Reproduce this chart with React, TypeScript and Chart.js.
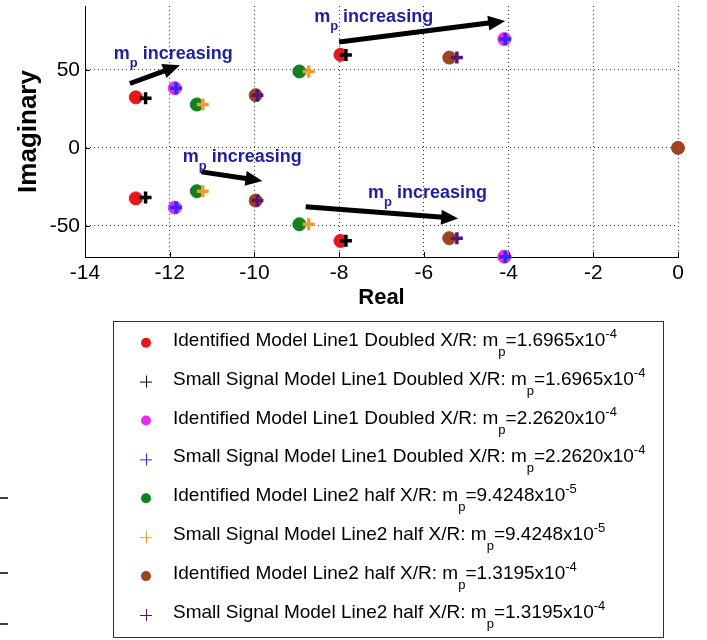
import React, { useEffect, useRef } from 'react';
import { Chart, registerables } from 'chart.js';

Chart.register(...registerables);

const FONT = '"Liberation Sans", Arial, Helvetica, sans-serif';

// ---- axes ----
const xTicks = [-14, -12, -10, -8, -6, -4, -2, 0];
const yTicks = [-50, 0, 50];
const xMin = -14;
const xMax = 0;
const yMin = -70;
const yMax = 91;
const xTitle = 'Real';
const yTitle = 'Imaginary';

// ---- series (real / imaginary parts of eigenvalues) ----
const idL1Mp1Re = [-12.8, -12.8, -7.97, -7.97];
const idL1Mp1Im = [32.4, -32.4, 59.7, -59.7];
const ssL1Mp1Re = [-12.57, -12.57, -7.84, -7.84];
const ssL1Mp1Im = [31.8, -31.8, 59.6, -59.6];
const idL1Mp2Re = [-11.88, -11.88, -4.1, -4.1];
const idL1Mp2Im = [38.3, -38.3, 69.8, -69.8];
const ssL1Mp2Re = [-11.85, -11.85, -4.08, -4.08];
const ssL1Mp2Im = [38.3, -38.3, 69.8, -69.8];
const idL2Mp1Re = [-11.36, -11.36, -8.94, -8.94];
const idL2Mp1Im = [27.8, -27.8, 49.0, -49.0];
const ssL2Mp1Re = [-11.22, -11.22, -8.72, -8.72];
const ssL2Mp1Im = [27.8, -27.8, 49.0, -49.0];
const idL2Mp2Re = [-9.97, -9.97, -5.4, -5.4, 0];
const idL2Mp2Im = [33.8, -33.8, 57.9, -57.9, 0];
const ssL2Mp2Re = [-9.93, -9.93, -5.22, -5.22];
const ssL2Mp2Im = [33.8, -33.8, 57.9, -57.9];

const seriesRe = [idL1Mp1Re, ssL1Mp1Re, idL1Mp2Re, ssL1Mp2Re, idL2Mp1Re, ssL2Mp1Re, idL2Mp2Re, ssL2Mp2Re];
const seriesIm = [idL1Mp1Im, ssL1Mp1Im, idL1Mp2Im, ssL1Mp2Im, idL2Mp1Im, ssL2Mp1Im, idL2Mp2Im, ssL2Mp2Im];
const seriesKind = ['dot', 'plus', 'dot', 'plus', 'dot', 'plus', 'dot', 'plus'];
const seriesColor = ['#e8161b', '#000000', '#e62ee6', '#2b2bff', '#12801c', '#f39a2c', '#a0431f', '#521774'];
const legendPrefix = [
  'Identified Model Line1 Doubled X/R: m',
  'Small Signal Model Line1 Doubled X/R: m',
  'Identified Model Line1 Doubled X/R: m',
  'Small Signal Model Line1 Doubled X/R: m',
  'Identified Model Line2 half X/R: m',
  'Small Signal Model Line2 half X/R: m',
  'Identified Model Line2 half X/R: m',
  'Small Signal Model Line2 half X/R: m',
];
const legendMantissa = ['=1.6965x10', '=1.6965x10', '=2.2620x10', '=2.2620x10', '=9.4248x10', '=9.4248x10', '=1.3195x10', '=1.3195x10'];
const legendExponent = ['-4', '-4', '-4', '-4', '-5', '-5', '-4', '-4'];

// ---- annotations ("m_p increasing" + arrows), in data coordinates ----
const noteX = [-13.32, -8.59, -11.69, -7.32];
const noteY = [57.3, 80.8, -9.0, -32.4];
const arrowFromX = [-12.94, -8.0, -11.25, -8.79];
const arrowFromY = [41.3, 67.9, -15.4, -37.8];
const arrowToX = [-11.76, -4.08, -9.81, -5.19];
const arrowToY = [53.0, 81.4, -21.2, -45.3];

type Part = { t: string; size: number; dy: number; bold?: boolean };

function drawRich(ctx: CanvasRenderingContext2D, x: number, y: number, parts: Part[], color: string) {
  let cx = x;
  ctx.fillStyle = color;
  ctx.textBaseline = 'alphabetic';
  ctx.textAlign = 'left';
  for (const p of parts) {
    ctx.font = `${p.bold ? 'bold ' : ''}${p.size}px ${FONT}`;
    ctx.fillText(p.t, cx, y + p.dy);
    cx += ctx.measureText(p.t).width;
  }
}

function drawArrow(ctx: CanvasRenderingContext2D, x1: number, y1: number, x2: number, y2: number) {
  const ang = Math.atan2(y2 - y1, x2 - x1);
  const headLen = 17;
  const headHalf = 7.5;
  const bx = x2 - headLen * Math.cos(ang);
  const by = y2 - headLen * Math.sin(ang);
  ctx.strokeStyle = '#000';
  ctx.fillStyle = '#000';
  ctx.lineWidth = 5;
  ctx.lineCap = 'butt';
  ctx.beginPath();
  ctx.moveTo(x1, y1);
  ctx.lineTo(bx + 2 * Math.cos(ang), by + 2 * Math.sin(ang));
  ctx.stroke();
  ctx.beginPath();
  ctx.moveTo(x2, y2);
  ctx.lineTo(bx - headHalf * Math.sin(ang), by + headHalf * Math.cos(ang));
  ctx.lineTo(bx + headHalf * Math.sin(ang), by - headHalf * Math.cos(ang));
  ctx.closePath();
  ctx.fill();
}

const overlayPlugin = {
  id: 'overlay',
  beforeDraw(chart: any) {
    const ctx = chart.ctx;
    ctx.save();
    ctx.fillStyle = '#fff';
    ctx.fillRect(0, 0, chart.width, chart.height);
    ctx.restore();
  },
  afterDraw(chart: any) {
    const { ctx, chartArea } = chart;
    const xs = chart.scales.x;
    const ys = chart.scales.y;
    ctx.save();
    // inward tick marks
    ctx.strokeStyle = '#000';
    ctx.lineWidth = 1;
    ctx.beginPath();
    xTicks.forEach((v) => {
      const px = Math.round(xs.getPixelForValue(v)) + 0.5;
      ctx.moveTo(px, chartArea.bottom);
      ctx.lineTo(px, chartArea.bottom - 5);
    });
    yTicks.forEach((v) => {
      const py = Math.round(ys.getPixelForValue(v)) + 0.5;
      ctx.moveTo(chartArea.left, py);
      ctx.lineTo(chartArea.left + 5, py);
    });
    ctx.stroke();

    // arrows
    for (let i = 0; i < arrowFromX.length; i++) {
      drawArrow(
        ctx,
        xs.getPixelForValue(arrowFromX[i]),
        ys.getPixelForValue(arrowFromY[i]),
        xs.getPixelForValue(arrowToX[i]),
        ys.getPixelForValue(arrowToY[i])
      );
    }
    // annotation text
    for (let i = 0; i < noteX.length; i++) {
      drawRich(
        ctx,
        xs.getPixelForValue(noteX[i]),
        ys.getPixelForValue(noteY[i]),
        [
          { t: 'm', size: 18, dy: 0, bold: true },
          { t: 'p', size: 13, dy: 8, bold: true },
          { t: ' increasing', size: 18, dy: 0, bold: true },
        ],
        '#1f1fa0'
      );
    }

    // legend box
    const bx = 113.5, by = 321.5, bw = 550, bh = 316;
    ctx.strokeStyle = '#333';
    ctx.lineWidth = 1;
    ctx.strokeRect(bx, by, bw, bh);
    const rowStep = 38.9;
    for (let i = 0; i < legendPrefix.length; i++) {
      const cy = 342.7 + i * rowStep;
      const mx = 146;
      if (seriesKind[i] === 'dot') {
        ctx.fillStyle = seriesColor[i];
        ctx.beginPath();
        ctx.arc(mx, cy, 5, 0, Math.PI * 2);
        ctx.fill();
      } else {
        ctx.strokeStyle = seriesColor[i];
        ctx.lineWidth = 1;
        ctx.beginPath();
        ctx.moveTo(mx - 6, cy + 0.5);
        ctx.lineTo(mx + 6, cy + 0.5);
        ctx.moveTo(mx + 0.5, cy - 6);
        ctx.lineTo(mx + 0.5, cy + 6);
        ctx.stroke();
      }
      drawRich(
        ctx,
        173,
        cy + 3,
        [
          { t: legendPrefix[i], size: 19, dy: 0 },
          { t: 'p', size: 13, dy: 10 },
          { t: legendMantissa[i], size: 19, dy: 0 },
          { t: legendExponent[i], size: 13, dy: -8 },
        ],
        '#000'
      );
    }

    // small stray dashes at the left edge
    ctx.strokeStyle = '#000';
    ctx.lineWidth = 1.5;
    ctx.beginPath();
    [498, 573, 624].forEach((yy) => {
      ctx.moveTo(0, yy);
      ctx.lineTo(8, yy);
    });
    ctx.stroke();
    ctx.restore();
  },
};

export default function App() {
  const ref = useRef<HTMLCanvasElement | null>(null);
  useEffect(() => {
    if (!ref.current) return;
    const datasets = seriesRe.map((re, i) => {
      const isDot = seriesKind[i] === 'dot';
      return {
        label: legendPrefix[i] + 'p' + legendMantissa[i] + '^' + legendExponent[i],
        data: re.map((r, j) => ({ x: r, y: seriesIm[i][j] })),
        showLine: false,
        pointStyle: isDot ? 'circle' : 'cross',
        pointRadius: isDot ? 6.5 : 6,
        pointBorderWidth: isDot ? 1 : 3.5,
        backgroundColor: seriesColor[i],
        borderColor: seriesColor[i],
        clip: false,
        order: seriesRe.length - i,
      };
    });
    const chart = new Chart(ref.current, {
      type: 'scatter',
      data: { datasets } as any,
      options: {
        animation: false,
        responsive: false,
        maintainAspectRatio: false,
        devicePixelRatio: 1,
        layout: { autoPadding: false, padding: { left: 0, right: 29, top: 6, bottom: 325 } },
        plugins: { legend: { display: false }, tooltip: { enabled: false } },
        scales: {
          x: {
            type: 'linear',
            min: xMin,
            max: xMax,
            afterBuildTicks: (s: any) => {
              s.ticks = xTicks.map((v) => ({ value: v }));
            },
            afterFit: (s: any) => {
              s.height = 58;
              s.paddingLeft = 0;
              s.paddingRight = 0;
            },
            grid: { color: '#333', lineWidth: 1, drawTicks: false },
            border: { display: true, color: '#000', width: 1, dash: [1, 3] },
            ticks: {
              color: '#000',
              padding: 4,
              font: { family: FONT, size: 21 },
              callback: (v: any) => String(v),
            },
            title: {
              display: true,
              text: xTitle,
              color: '#000',
              font: { family: FONT, size: 22, weight: 'bold' },
              padding: { top: 0, bottom: 4 },
            },
          },
          y: {
            type: 'linear',
            min: yMin,
            max: yMax,
            afterBuildTicks: (s: any) => {
              s.ticks = yTicks.map((v) => ({ value: v }));
            },
            afterFit: (s: any) => {
              s.width = 85;
              s.paddingTop = 0;
              s.paddingBottom = 0;
            },
            grid: { color: '#333', lineWidth: 1, drawTicks: false },
            border: { display: true, color: '#000', width: 1, dash: [1, 3] },
            ticks: {
              color: '#000',
              padding: 5,
              font: { family: FONT, size: 21 },
              callback: (v: any) => String(v),
            },
            title: {
              display: true,
              text: yTitle,
              color: '#000',
              font: { family: FONT, size: 26, weight: 'bold' },
              padding: { top: 13, bottom: 0 },
            },
          },
        },
      } as any,
      plugins: [overlayPlugin],
    });
    return () => chart.destroy();
  }, []);
  return (
    <div style={{ position: 'absolute', left: 0, top: 0, width: 707, height: 640, background: '#fff' }}>
      <canvas ref={ref} width={707} height={640} style={{ display: 'block', width: 707, height: 640 }} />
    </div>
  );
}
